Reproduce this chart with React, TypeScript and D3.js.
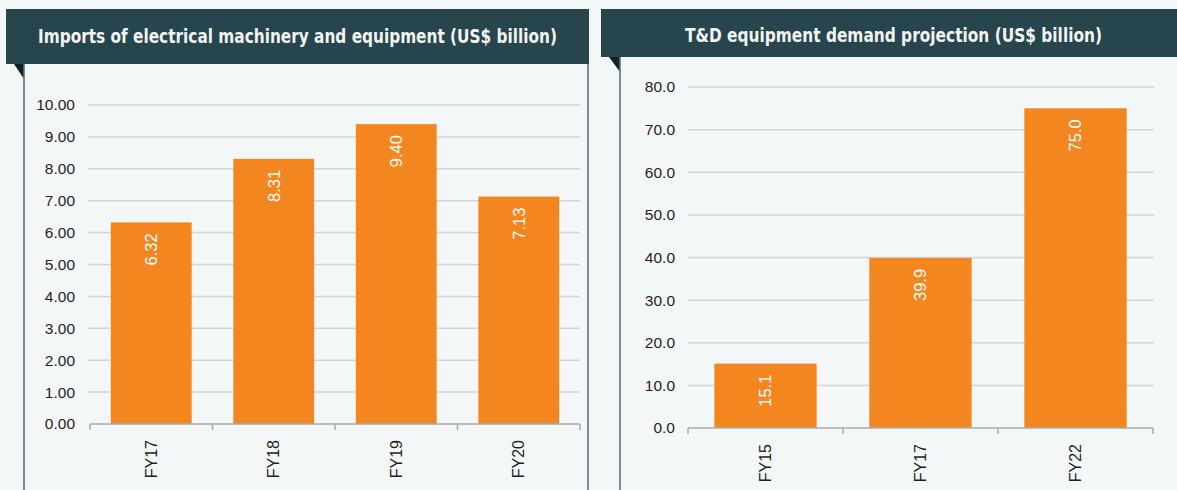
import React from 'react'
import * as d3 from 'd3'

const leftTitle = 'Imports of electrical machinery and equipment (US$ billion)'
const leftCategories = ['FY17', 'FY18', 'FY19', 'FY20']
const leftValues = [6.32, 8.31, 9.4, 7.13]
const leftTicks = [0, 1, 2, 3, 4, 5, 6, 7, 8, 9, 10]

const rightTitle = 'T&D equipment demand projection (US$ billion)'
const rightCategories = ['FY15', 'FY17', 'FY22']
const rightValues = [15.1, 39.9, 75.0]
const rightTicks = [0, 10, 20, 30, 40, 50, 60, 70, 80]

const W = 1177
const H = 490
const HEADER = '#27454d'
const FOLD = '#0f2327'
const BORDER = '#5b7177'
const BAR = '#f3861f'
const GRID = '#d2d4d5'
const AXIS = '#a9abac'
const FONT = 'Liberation Sans, Arial, sans-serif'

function Panel({ x0, x1, headerBottom, borderX, rightBorderX, title, titleX, titleY, titleLen }) {
  return (
    <g>
      <rect x={x0} y={9} width={x1 - x0} height={headerBottom - 9} fill={HEADER} />
      <path d={`M${x0 + 8},${headerBottom} L${borderX},${headerBottom} L${borderX},${headerBottom + 15} Z`} fill={FOLD} />
      <line x1={borderX} x2={borderX} y1={headerBottom} y2={H} stroke={BORDER} strokeWidth={1.6} />
      {rightBorderX != null && (
        <line x1={rightBorderX} x2={rightBorderX} y1={headerBottom} y2={H} stroke={BORDER} strokeWidth={1.6} />
      )}
      <text x={titleX} y={titleY} textAnchor="middle" fill="#f2f4f4"
        fontFamily="Liberation Sans Narrow, Arial Narrow, DejaVu Sans Condensed, sans-serif" fontWeight="bold" fontSize={19}
        textLength={titleLen} lengthAdjust="spacingAndGlyphs">{title}</text>
    </g>
  )
}

function BarChart({ categories, values, ticks, xRange, yRange, gridX, labelX, decimals }) {
  const x = d3.scaleBand().domain(categories).range(xRange).paddingInner(0.34).paddingOuter(0.17)
  const y = d3.scaleLinear().domain([ticks[0], ticks[ticks.length - 1]]).range(yRange)
  const fmt = d3.format(`.${decimals}f`)
  const y0 = y(0)
  const bounds = categories.map(c => x(c) - x.step() * x.paddingInner() / 2)
  bounds.push(xRange[1])
  return (
    <g fontFamily={FONT}>
      {ticks.filter(t => t !== 0).map(t => (
        <line key={t} x1={gridX[0]} x2={gridX[1]} y1={y(t)} y2={y(t)} stroke={GRID} strokeWidth={1.5} />
      ))}
      {ticks.map(t => (
        <text key={'l' + t} x={labelX} y={y(t)} dy="0.35em" textAnchor="end" fontSize={15.5} fill="#1f1f1f">{fmt(t)}</text>
      ))}
      {categories.map((c, i) => (
        <rect key={c} x={x(c)} y={y(values[i])} width={x.bandwidth()} height={y0 - y(values[i])} fill={BAR} />
      ))}
      {categories.map((c, i) => (
        <text key={'v' + c} transform={`translate(${x(c) + x.bandwidth() / 2},${y(values[i]) + 11}) rotate(-90)`}
          textAnchor="end" dy="0.35em" fontSize={16.5} fill="#ffffff">{fmt(values[i])}</text>
      ))}
      <line x1={xRange[0]} x2={xRange[1]} y1={y0} y2={y0} stroke={AXIS} strokeWidth={1.5} />
      {bounds.map((b, i) => (
        <line key={'t' + i} x1={b} x2={b} y1={y0} y2={y0 + 6} stroke={AXIS} strokeWidth={1.5} />
      ))}
      {categories.map(c => (
        <text key={'c' + c} transform={`translate(${x(c) + x.bandwidth() / 2},${y0 + 16}) rotate(-90)`}
          textAnchor="end" dy="0.35em" fontSize={16} fill="#1f1f1f">{c}</text>
      ))}
    </g>
  )
}

export default function App() {
  return (
    <svg width={W} height={H} style={{ position: 'absolute', left: 0, top: 0, display: 'block' }}>
      <rect width={W} height={H} fill="#f4f7f8" />
      <Panel x0={6} x1={589} headerBottom={64} borderX={24} rightBorderX={588}
        title={leftTitle} titleX={297.5} titleY={43} titleLen={519} />
      <Panel x0={601} x1={1190} headerBottom={57} borderX={620}
        title={rightTitle} titleX={893.5} titleY={42} titleLen={417} />
      <BarChart categories={leftCategories} values={leftValues} ticks={leftTicks}
        xRange={[90, 580]} yRange={[424, 105]} gridX={[88, 580]} labelX={75} decimals={2} />
      <BarChart categories={rightCategories} values={rightValues} ticks={rightTicks}
        xRange={[688, 1153]} yRange={[428, 87]} gridX={[688, 1154]} labelX={675} decimals={1} />
    </svg>
  )
}
